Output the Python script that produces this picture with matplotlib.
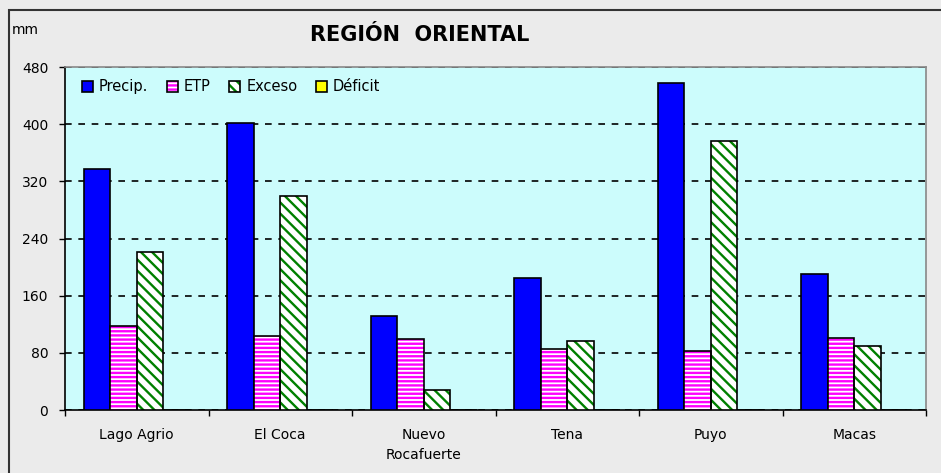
import numpy as np
import matplotlib
matplotlib.use("Agg")
import matplotlib.pyplot as plt
from matplotlib.patches import Rectangle

# data (mm)
stations = ['Lago Agrio', 'El Coca', 'Nuevo\nRocafuerte', 'Tena', 'Puyo', 'Macas']
precip = [337, 401, 131, 185, 457, 190]
etp = [117, 103, 100, 86, 82, 101]
exceso = [221, 300, 28, 97, 376, 89]
deficit = [0, 0, 0, 0, 0, 0]
yticks = [0, 80, 160, 240, 320, 400, 480]

plt.rcParams['hatch.linewidth'] = 1.7
plt.rcParams['font.family'] = ['DejaVu Sans']

fig = plt.figure(figsize=(9.41, 4.73), dpi=100, facecolor='#ebebeb')
ax = fig.add_axes([65/941, 1-410/473, (926-65)/941, (410-67)/473])
ax.set_facecolor('#ccfcfc')

x = np.arange(len(stations))
w = 0.185

# outer frame of the chart
fig.patches.append(Rectangle((9/941, -0.1), 1.1, 1.1 - 10/473, transform=fig.transFigure,
                             fill=False, edgecolor='#333333', linewidth=1.5, zorder=0))

b1 = ax.bar(x - 1.5*w, precip, w, color='#0000ff', edgecolor='black', linewidth=1.2, zorder=3)
b2 = ax.bar(x - 0.5*w, etp, w, color='white', edgecolor='#ff00ff', hatch='----', linewidth=0, zorder=3)
b2o = ax.bar(x - 0.5*w, etp, w, color='none', edgecolor='black', linewidth=1.2, zorder=4)
b3 = ax.bar(x + 0.5*w, exceso, w, color='white', edgecolor='#008000', hatch='\\\\\\', linewidth=0, zorder=3)
b3o = ax.bar(x + 0.5*w, exceso, w, color='none', edgecolor='black', linewidth=1.2, zorder=4)
b4 = ax.bar(x + 1.5*w, deficit, w, color='#ffff00', edgecolor='black', linewidth=1.2, zorder=3)

ax.set_xlim(-0.5, len(stations) - 0.5)
ax.set_ylim(0, 480)
ax.set_yticks(yticks)
ax.set_yticklabels([str(v) for v in yticks], fontsize=10)
ax.set_xticks(x)
ax.set_xticklabels(stations, fontsize=10, linespacing=1.5, va='top')
ax.set_xticks(np.arange(-0.5, len(stations)), minor=True)
ax.tick_params(axis='x', which='major', length=0, pad=13)
ax.tick_params(axis='x', which='minor', length=4, direction='out', width=1)
ax.tick_params(axis='y', length=4, direction='out', width=1, pad=8)

ax.grid(axis='y', linestyle=(0, (4, 4)), color='black', linewidth=1.2, zorder=1)
ax.set_axisbelow(True)

for s in ['top', 'right']:
    ax.spines[s].set_color('#888888')
    ax.spines[s].set_linewidth(1.2)
for s in ['left', 'bottom']:
    ax.spines[s].set_color('black')
    ax.spines[s].set_linewidth(1.2)

fig.text(420/941, 1-35/473, 'REGIÓN  ORIENTAL', fontsize=15, fontweight='bold',
         ha='center', va='center')
fig.text(12/941, 1-30/473, 'mm', fontsize=10, ha='left', va='center')

ax.legend([b1[0], (b2[0], b2o[0]), (b3[0], b3o[0]), b4[0]],
          ['Precip.', 'ETP', 'Exceso', 'Déficit'],
          loc='upper left', bbox_to_anchor=(0.005, 1.0), ncol=4, frameon=False,
          fontsize=10.5, handlelength=0.75, handleheight=0.75, handletextpad=0.4,
          columnspacing=1.3, borderaxespad=0.45)

fig.savefig('out.png', dpi=100, facecolor=fig.get_facecolor())
